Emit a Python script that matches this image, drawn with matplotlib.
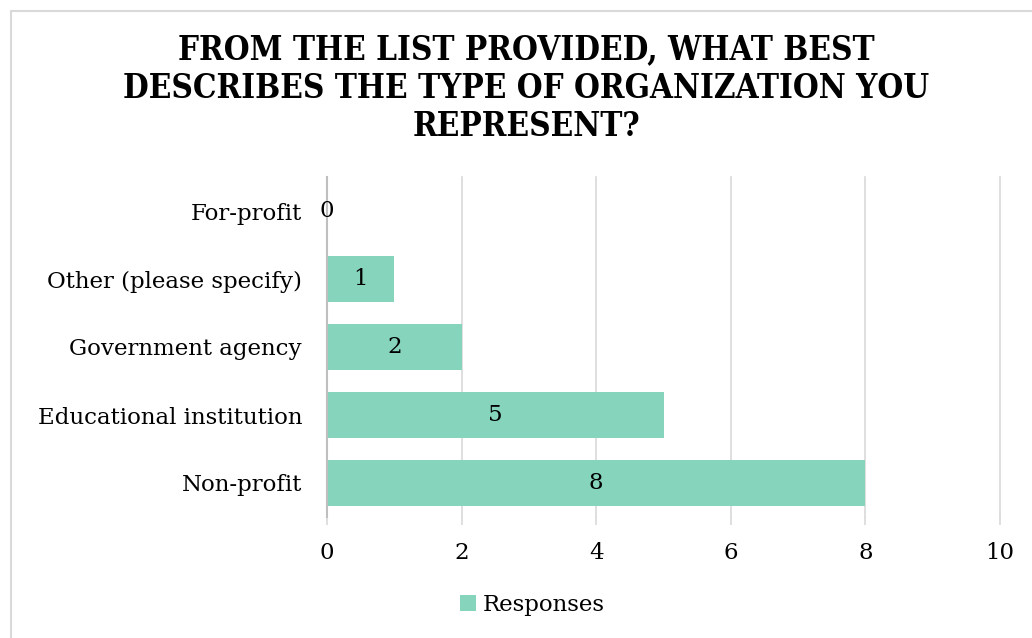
import matplotlib
matplotlib.use("Agg")
import matplotlib.pyplot as plt
from matplotlib.patches import Rectangle, Patch

categories = ["Non-profit", "Educational institution", "Government agency",
              "Other (please specify)", "For-profit"]
responses = [8, 5, 2, 1, 0]
xticks = [0, 2, 4, 6, 8, 10]
title = "FROM THE LIST PROVIDED, WHAT BEST\nDESCRIBES THE TYPE OF ORGANIZATION YOU\nREPRESENT?"
series_name = "Responses"

bar_color = "#85D4BB"
grid_color = "#D9D9D9"
spine_color = "#BFBFBF"
font = "DejaVu Serif"
fs = 16.5

W, H = 1032, 638
fig = plt.figure(figsize=(W / 100, H / 100), dpi=100)

# outer chart border
fig.patches.append(Rectangle((10.5 / W, -0.01), 1.1, (638 - 11) / H + 0.01,
                             transform=fig.transFigure, fill=False,
                             edgecolor="#D9D9D9", linewidth=1.5))

ax = fig.add_axes([327 / W, 121 / H, 673 / W, 340 / H])
ypos = list(range(len(categories)))
bars = ax.barh(ypos, responses, height=0.67, color=bar_color, zorder=2)
for y, v in zip(ypos, responses):
    ax.text(v / 2, y, str(v), ha="center", va="center", fontsize=fs,
            family=font, color="black", zorder=5)

ax.set_xlim(0, 10)
ax.set_ylim(-0.5, len(categories) - 0.5)
ax.set_xticks(xticks)
ax.set_xticklabels([str(t) for t in xticks], family=font, fontsize=fs)
ax.set_yticks(ypos)
ax.set_yticklabels(categories, family=font, fontsize=fs)
ax.grid(axis="x", color=grid_color, linewidth=1.2, zorder=0)
for gl in ax.get_xgridlines():
    gl.set_clip_on(False)
ax.tick_params(axis="x", length=6, width=1.2, color=grid_color, pad=12)
ax.tick_params(axis="y", length=0, pad=18)
for s in ["top", "right", "bottom"]:
    ax.spines[s].set_visible(False)
ax.spines["left"].set_color(spine_color)
ax.spines["left"].set_linewidth(1.5)
ax.spines["left"].set_zorder(4)

fig.text(526 / W, 1 - 88 / H, title, ha="center", va="center",
         fontsize=23.8, fontweight="bold", family=font, fontstretch="condensed",
         linespacing=1.22)

leg = fig.legend(handles=[Patch(facecolor=bar_color, label=series_name)],
                 loc="center", bbox_to_anchor=(532 / W, 1 - 605 / H),
                 frameon=False, prop={"family": font, "size": fs},
                 handlelength=0.7, handleheight=0.7, handletextpad=0.3)

fig.savefig("out.png", dpi=100)
